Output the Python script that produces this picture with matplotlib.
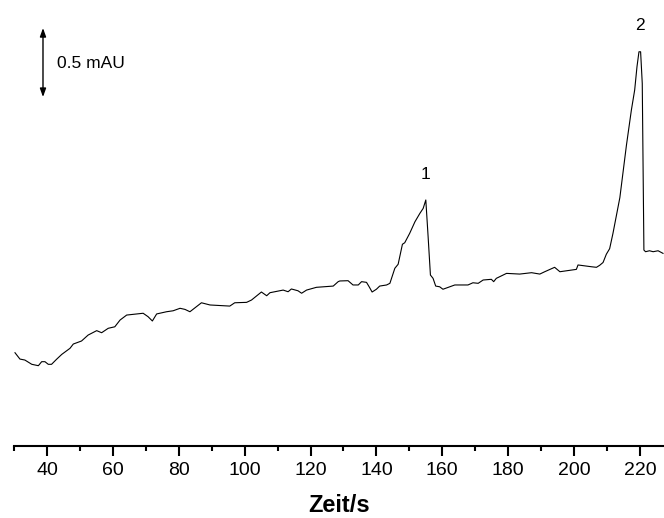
import numpy as np
import matplotlib
matplotlib.use("Agg")
import matplotlib.pyplot as plt
from matplotlib.ticker import MultipleLocator

plt.rcParams['font.family'] = ['Liberation Sans', 'DejaVu Sans']

#
# Data
#
zeit = [30.3, 31.8, 33.3, 35.4, 37.4, 38.4, 39.4, 40.4, 41.4, 42.9, 44.5, 47.0,
        48.0, 50.5, 52.5, 55.1, 56.6, 58.6, 60.6, 62.2, 64.2, 69.2, 70.7, 72.0,
        73.3, 76.3, 78.3, 80.4, 81.9, 83.4, 86.9, 89.5, 95.5, 97.0, 100.6, 102.1,
        103.6, 105.1, 106.7, 107.7, 111.7, 113.2, 114.2, 116.2, 117.3, 118.8,
        121.8, 126.9, 128.4, 128.9, 131.4, 132.9, 134.5, 135.5, 137.0, 137.8,
        138.7, 140.0, 141.0, 143.1, 144.1, 145.6, 146.6, 147.9, 148.6, 150.1,
        151.7, 153.2, 154.2, 155.0, 155.7, 156.4, 157.2, 158.0, 159.2, 160.2,
        163.8, 167.8, 169.3, 170.9, 172.4, 174.9, 175.6, 176.4, 179.5, 183.5,
        187.1, 189.6, 191.1, 194.1, 195.7, 200.7, 201.2, 205.3, 206.8, 207.8,
        208.8, 209.8, 210.8, 211.8, 213.9, 215.9, 217.4, 218.4, 219.1, 219.7,
        220.2, 220.7, 221.2, 221.7, 222.9, 224.0, 225.5, 227.0]
signal = [0.676, 0.630, 0.623, 0.592, 0.582, 0.611, 0.611, 0.592, 0.592, 0.628,
          0.664, 0.708, 0.739, 0.761, 0.804, 0.836, 0.821, 0.853, 0.864, 0.913,
          0.949, 0.962, 0.937, 0.906, 0.957, 0.973, 0.980, 0.998, 0.990, 0.973,
          1.038, 1.022, 1.014, 1.038, 1.041, 1.058, 1.087, 1.116, 1.089, 1.111,
          1.130, 1.118, 1.138, 1.125, 1.107, 1.130, 1.150, 1.159, 1.191, 1.196,
          1.198, 1.167, 1.167, 1.191, 1.186, 1.154, 1.116, 1.136, 1.159, 1.167,
          1.179, 1.288, 1.317, 1.462, 1.473, 1.541, 1.625, 1.686, 1.722, 1.783,
          1.517, 1.239, 1.215, 1.159, 1.154, 1.136, 1.167, 1.167, 1.183, 1.179,
          1.203, 1.208, 1.191, 1.215, 1.251, 1.246, 1.256, 1.246, 1.263, 1.295,
          1.263, 1.280, 1.312, 1.299, 1.295, 1.310, 1.330, 1.390, 1.430, 1.540,
          1.800, 2.180, 2.435, 2.580, 2.749, 2.857, 2.857, 2.628, 1.420, 1.408,
          1.415, 1.408, 1.415, 1.396]

peak_zeit = [155.0, 220.0]
peak_namen = ['1', '2']
peak_y = [1.97, 3.05]

#
# Plot
#
fig = plt.figure(figsize=(6.64, 5.18), dpi=100)
ax = fig.add_axes([14/664, 72/518, 650/664, 441/518])

ax.plot(zeit, signal, color='black', lw=0.8)

for x, y, s in zip(peak_zeit, peak_y, peak_namen):
    ax.text(x, y, s, fontsize=12.5, ha='center', va='center')

# scale bar 0.5 mAU
ax.annotate('', xy=(38.8, 2.529), xytext=(38.8, 3.029),
            arrowprops=dict(arrowstyle='<|-|>,head_length=0.5,head_width=0.18',
                            color='black', lw=1.0, shrinkA=0, shrinkB=0))
ax.text(43.0, 2.77, '0.5 mAU', fontsize=12.5, ha='left', va='center')

ax.set_xlim(30, 227.3)
ax.set_ylim(0, 3.196)

for s in ['top', 'right', 'left']:
    ax.spines[s].set_visible(False)
ax.spines['bottom'].set_linewidth(1.5)
ax.set_yticks([])

ax.xaxis.set_major_locator(MultipleLocator(20))
ax.xaxis.set_minor_locator(MultipleLocator(10))
ax.set_xticks(np.arange(40, 221, 20))
ax.tick_params(axis='x', which='major', direction='out', length=7.5, width=1.5,
               labelsize=14, pad=4)
ax.tick_params(axis='x', which='minor', direction='out', length=3.8, width=1.5)

ax.set_xlabel('Zeit/s', fontsize=17, fontweight='bold', labelpad=11)

plt.savefig('out.png', dpi=100)
